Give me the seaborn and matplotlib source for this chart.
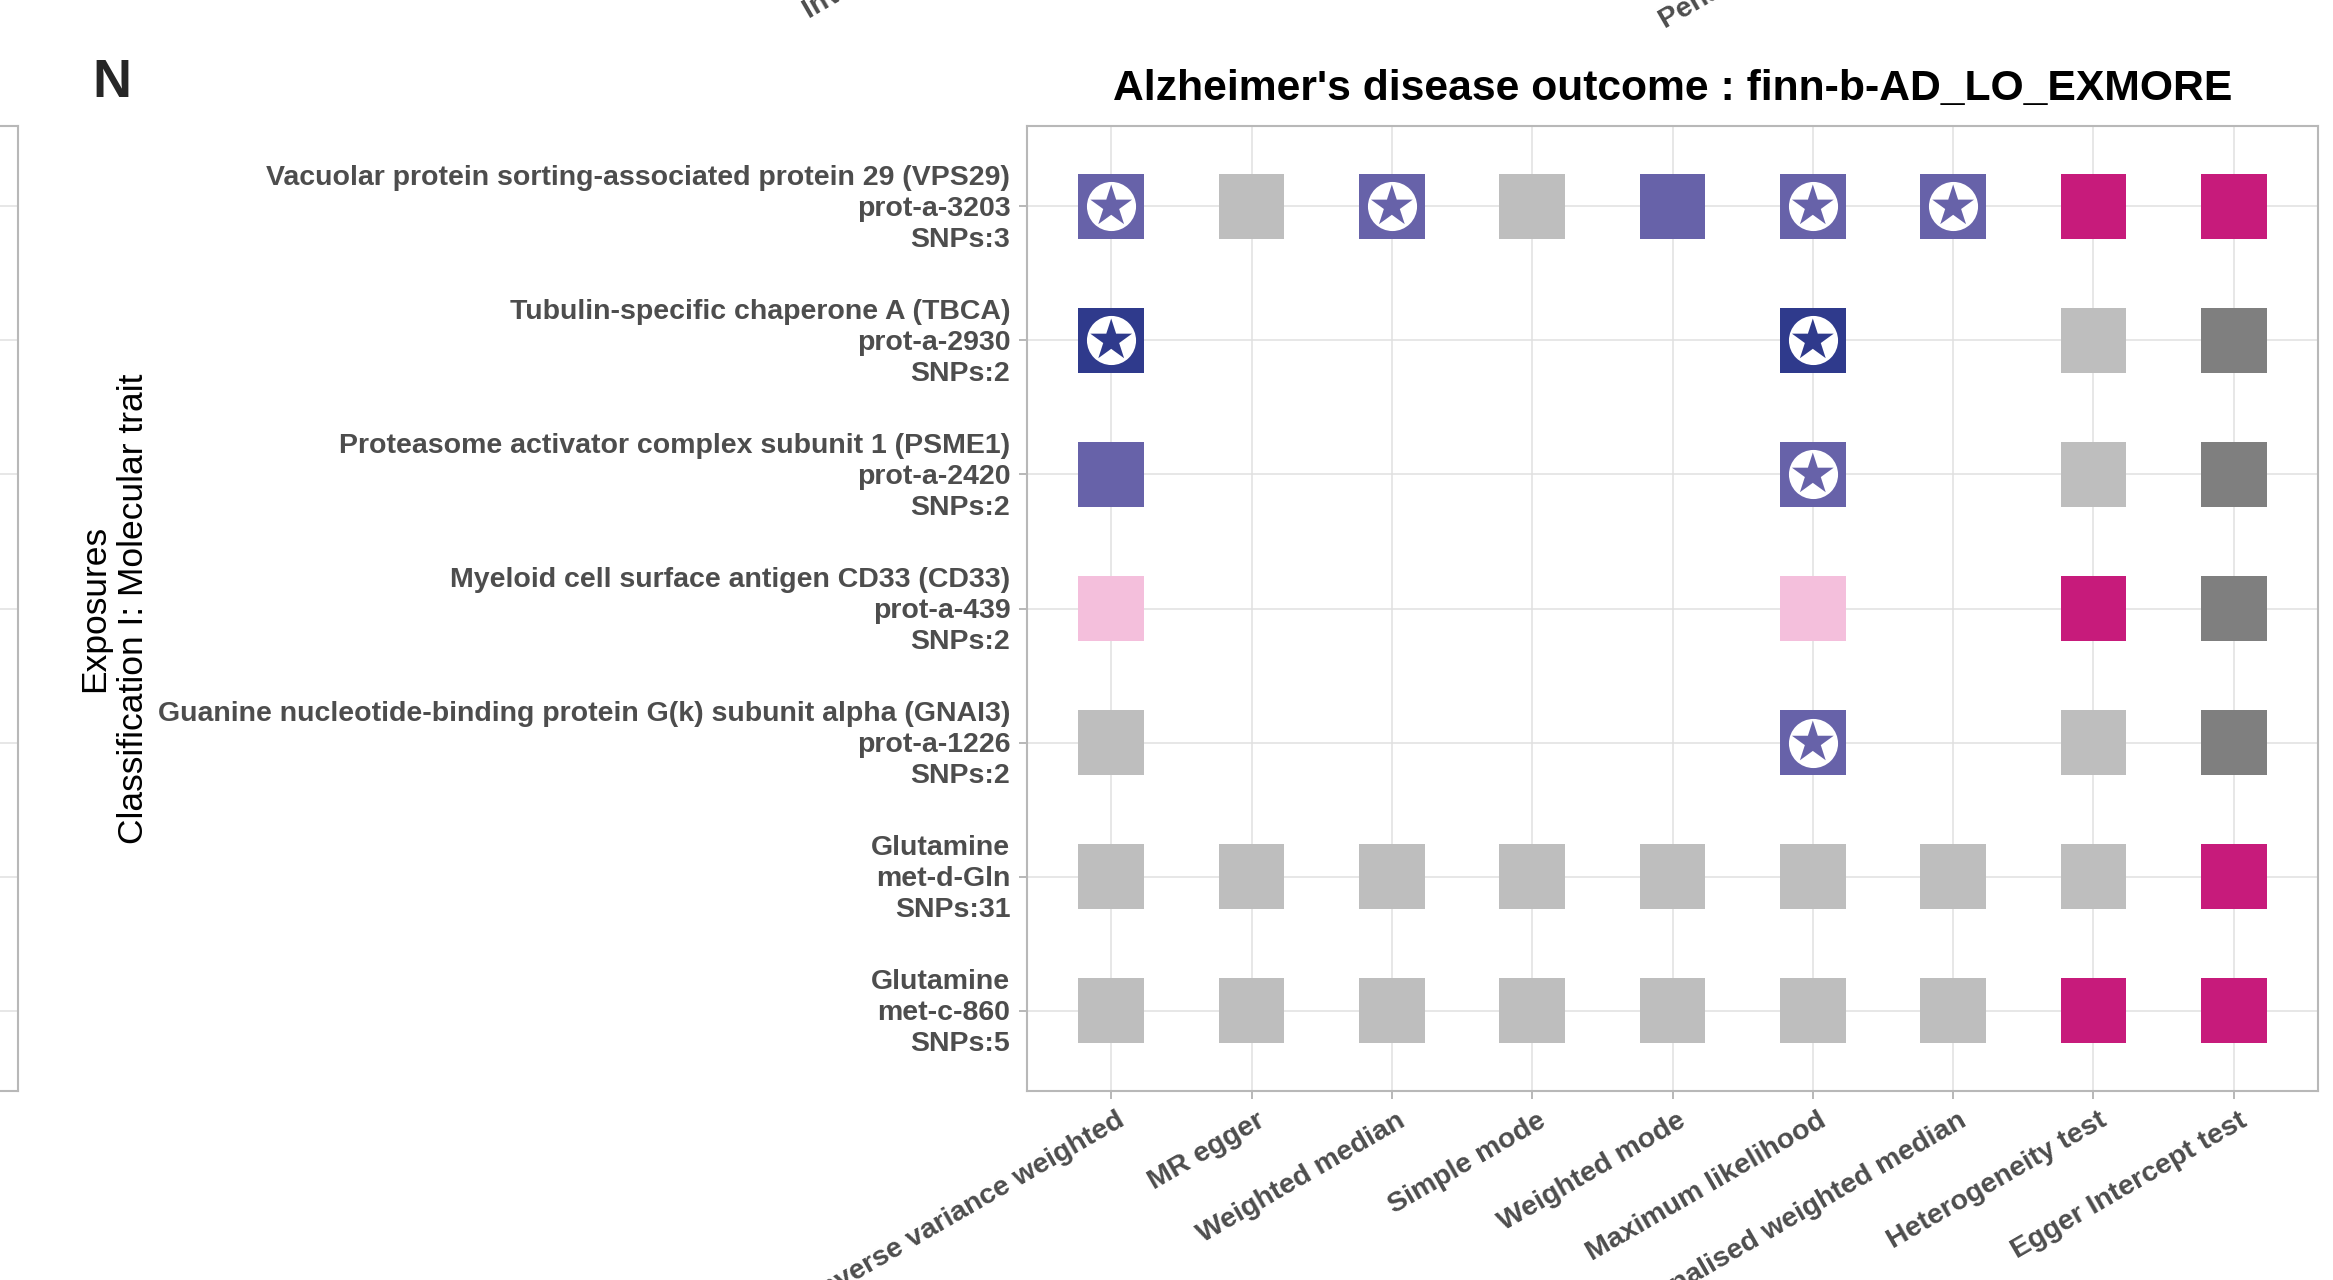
import matplotlib
matplotlib.use("Agg")
import matplotlib.pyplot as plt
import seaborn as sns
import pandas as pd
from matplotlib.transforms import ScaledTranslation

# MR methods / tests (x axis)
methods = ["Inverse variance weighted", "MR egger", "Weighted median", "Simple mode",
           "Weighted mode", "Maximum likelihood", "Penalised weighted median",
           "Heterogeneity test", "Egger Intercept test"]

# exposures (y axis, top to bottom)
exposure_names = ["Vacuolar protein sorting-associated protein 29 (VPS29)",
                  "Tubulin-specific chaperone A (TBCA)",
                  "Proteasome activator complex subunit 1 (PSME1)",
                  "Myeloid cell surface antigen CD33 (CD33)",
                  "Guanine nucleotide-binding protein G(k) subunit alpha (GNAI3)",
                  "Glutamine",
                  "Glutamine"]
exposure_ids = ["prot-a-3203", "prot-a-2930", "prot-a-2420", "prot-a-439",
                "prot-a-1226", "met-d-Gln", "met-c-860"]
exposure_snps = [3, 2, 2, 2, 2, 31, 5]

# cell status: N = negative effect, NN = strong negative, P = positive,
# G = not significant, T = test significant, D = intercept test not significant, . = not run
status_vps29 = ["N", "G", "N", "G", "N", "N", "N", "T", "T"]
status_tbca = ["NN", ".", ".", ".", ".", "NN", ".", "G", "D"]
status_psme1 = ["N", ".", ".", ".", ".", "N", ".", "G", "D"]
status_cd33 = ["P", ".", ".", ".", ".", "P", ".", "T", "D"]
status_gnai3 = ["G", ".", ".", ".", ".", "N", ".", "G", "D"]
status_gln_d = ["G", "G", "G", "G", "G", "G", "G", "G", "T"]
status_gln_c = ["G", "G", "G", "G", "G", "G", "G", "T", "T"]

# star = passes significance after correction
star_vps29 = [1, 0, 1, 0, 0, 1, 1, 0, 0]
star_tbca = [1, 0, 0, 0, 0, 1, 0, 0, 0]
star_psme1 = [0, 0, 0, 0, 0, 1, 0, 0, 0]
star_cd33 = [0, 0, 0, 0, 0, 0, 0, 0, 0]
star_gnai3 = [0, 0, 0, 0, 0, 1, 0, 0, 0]
star_gln_d = [0, 0, 0, 0, 0, 0, 0, 0, 0]
star_gln_c = [0, 0, 0, 0, 0, 0, 0, 0, 0]

palette = {"N": "#6762A9", "NN": "#2F3A8C", "P": "#F4BFDC", "G": "#BEBEBE",
           "T": "#C71B7B", "D": "#7F7F7F"}

statuses = [status_vps29, status_tbca, status_psme1, status_cd33, status_gnai3,
            status_gln_d, status_gln_c]
stars = [star_vps29, star_tbca, star_psme1, star_cd33, star_gnai3, star_gln_d, star_gln_c]

n_rows = len(statuses)
records = []
for i, (st, sr) in enumerate(zip(statuses, stars)):
    for j in range(len(methods)):
        if st[j] == ".":
            continue
        records.append({"x": j + 1, "y": n_rows - i, "status": st[j], "star": sr[j]})
df = pd.DataFrame(records)
df_star = df[df["star"] == 1]

sns.set_theme(style="white")
plt.rcParams["font.family"] = ["Liberation Sans", "DejaVu Sans"]

W, H = 2333, 1280
fig = plt.figure(figsize=(W / 100, H / 100), dpi=100)
ax = fig.add_axes([1027 / W, 1 - 1091 / H, (2318 - 1027) / W, (1091 - 126) / H])

grid_col = "#E0E0E0"
edge_col = "#B8B8B8"
text_col = "#4D4D4D"

ax.set_axisbelow(True)
ax.grid(True, color=grid_col, linewidth=1.1)

sns.scatterplot(data=df, x="x", y="y", hue="status", palette=palette, marker="s",
                s=2230, linewidth=0, legend=False, ax=ax, zorder=3)
sns.scatterplot(data=df_star, x="x", y="y", color="white", marker="o",
                s=1250, linewidth=0, legend=False, ax=ax, zorder=4)
sns.scatterplot(data=df_star, x="x", y="y", hue="status", palette=palette, marker="*",
                s=1000, linewidth=0, legend=False, ax=ax, zorder=5)

ax.set_xlim(0.4, len(methods) + 0.6)
ax.set_ylim(0.4, n_rows + 0.6)

ax.set_xticks(range(1, len(methods) + 1))
ax.set_xticklabels(methods, rotation=30, ha="right", va="top", rotation_mode="anchor",
                   fontsize=20.5, fontweight="bold", color=text_col)
ylabels = [f"{n}\n{i}\nSNPs:{s}" for n, i, s in zip(exposure_names, exposure_ids, exposure_snps)]
ax.set_yticks(range(n_rows, 0, -1))
ax.set_yticklabels(ylabels, fontsize=20.5, fontweight="bold", color=text_col, linespacing=1.26)
ax.tick_params(axis="both", length=6, width=1.4, color=edge_col, bottom=True, left=True)
ax.tick_params(axis="y", pad=6)
ax.tick_params(axis="x", pad=6)
for lab in ax.get_xticklabels():
    lab.set_transform(lab.get_transform() + ScaledTranslation(5 / 100, 0, fig.dpi_scale_trans))
for lab in ax.get_yticklabels():
    lab.set_transform(lab.get_transform() + ScaledTranslation(0, 3 / 100, fig.dpi_scale_trans))

for sp in ax.spines.values():
    sp.set_color(edge_col)
    sp.set_linewidth(1.5)

ax.set_xlabel("")
ax.set_ylabel("Exposures\nClassification I: Molecular trait", fontsize=25.5,
              color="black", linespacing=1.2)
ax.yaxis.set_label_coords((114 - 1027) / (2318 - 1027), 0.5)
ax.yaxis.label.set_va("center")

ax.set_title("Alzheimer's disease outcome : finn-b-AD_LO_EXMORE", fontsize=30.7,
             fontweight="bold", color="black", pad=19)

fig.text(112 / W, 1 - 83 / H, "N", fontsize=39, fontweight="bold", ha="center", va="center")

# neighbouring panels cut off by the figure edge
left_ax = fig.add_axes([-0.1, 1 - 1091 / H, 0.1 + 18 / W, (1091 - 126) / H])
left_ax.set_ylim(0.4, n_rows + 0.6)
left_ax.set_yticks(range(n_rows, 0, -1))
left_ax.set_xticks([])
left_ax.grid(True, axis="y", color=grid_col, linewidth=1.1)
left_ax.tick_params(length=0, labelleft=False)
for sp in left_ax.spines.values():
    sp.set_color(edge_col)
    sp.set_linewidth(1.5)

fig.text(809 / W, 1 - 19 / H, methods[0], fontsize=20.5, fontweight="bold", color=text_col,
         rotation=30, ha="left", va="baseline", rotation_mode="anchor")
fig.text(1665 / W, 1 - 29 / H, methods[6], fontsize=20.5, fontweight="bold", color=text_col,
         rotation=30, ha="left", va="baseline", rotation_mode="anchor")

fig.savefig("out.png", dpi=100)
